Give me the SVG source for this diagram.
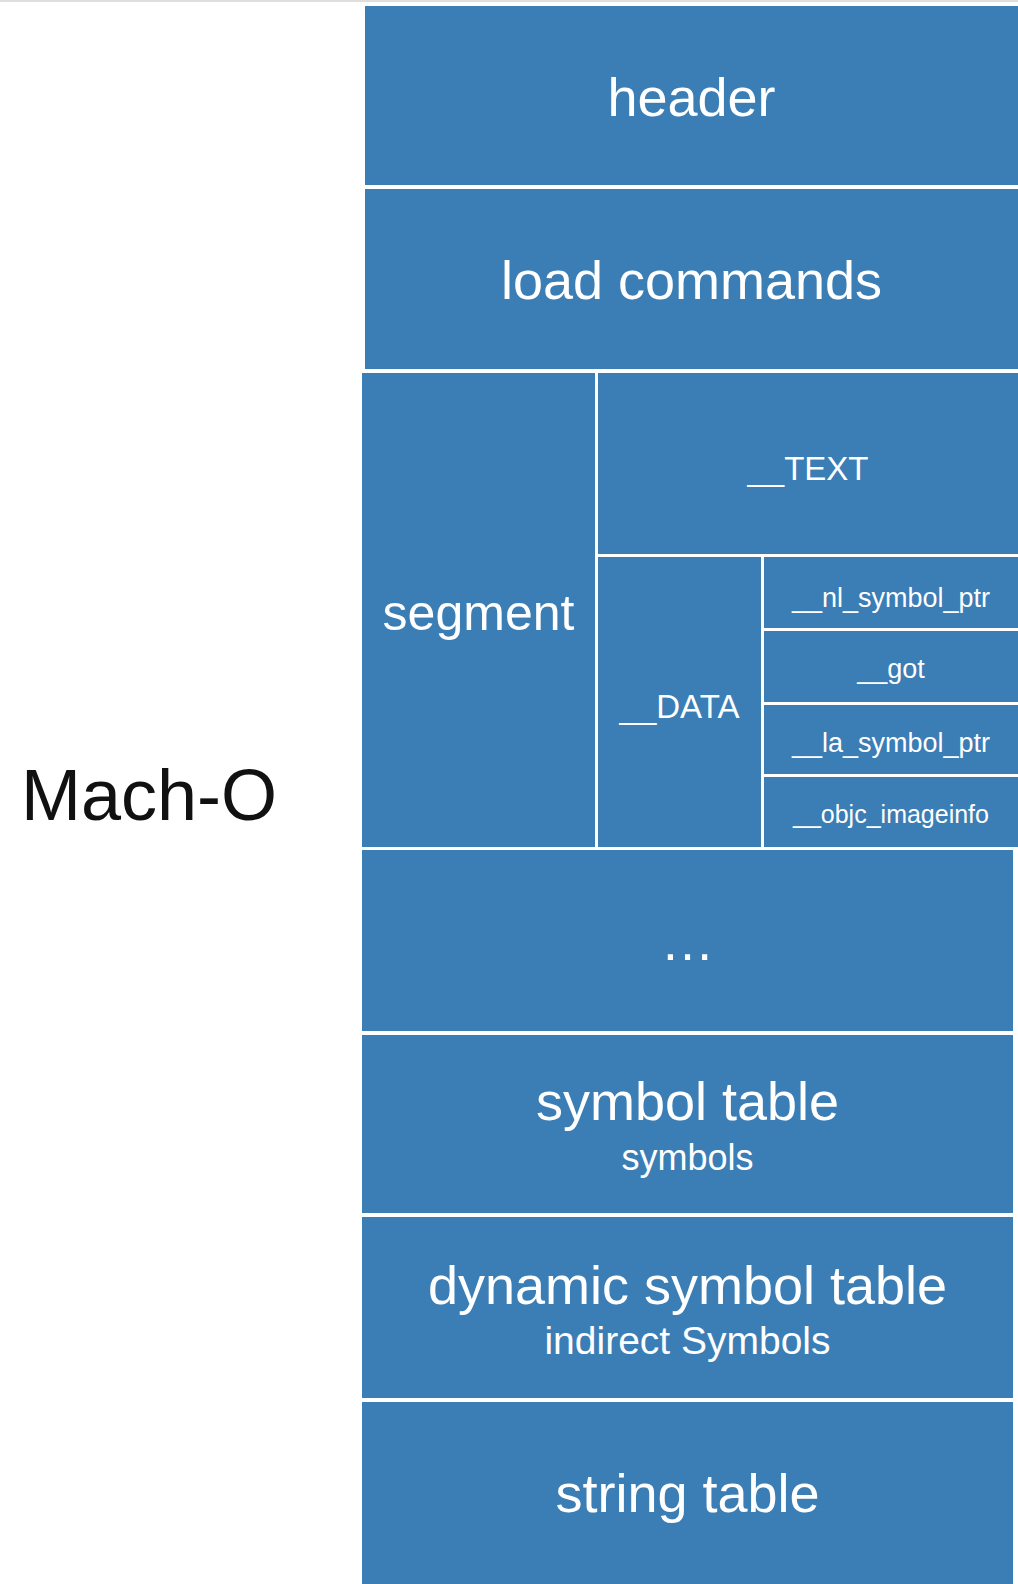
<svg xmlns="http://www.w3.org/2000/svg" width="1018" height="1584" viewBox="0 0 1018 1584">
<style>
.blk{fill:#3b7db5}
.t{fill:#ffffff;font-family:"Liberation Sans",Arial,Helvetica,sans-serif;text-anchor:middle}
.big{font-size:54px}
.mid{font-size:33px}
.sm{font-size:27px}
.sub{font-size:37px}
.side{fill:#111111;font-family:"Liberation Sans",Arial,Helvetica,sans-serif;font-size:72px;text-anchor:middle}
</style>
<rect x="0" y="0" width="1018" height="1584" fill="#ffffff"/>
<rect x="0" y="0" width="1018" height="2" fill="#dedede"/>
<g id="title"><text class="side" x="149" y="820">Mach-O</text></g>
<g id="header"><rect class="blk" x="365" y="6" width="653" height="179"/><text class="t big" x="691.5" y="116">header</text></g>
<g id="load-commands"><rect class="blk" x="365" y="189" width="653" height="180"/><text class="t big" x="691.5" y="299">load commands</text></g>
<g id="segment"><rect class="blk" x="362" y="373" width="233" height="474"/><text class="t" style="font-size:50px" x="478.5" y="630">segment</text></g>
<g id="text-seg"><rect class="blk" x="598" y="373" width="420" height="181"/><text class="t mid" x="808" y="480">__TEXT</text></g>
<g id="data-seg"><rect class="blk" x="598" y="557" width="163" height="290"/><text class="t mid" x="679.5" y="718">__DATA</text></g>
<g id="nl-symbol-ptr"><rect class="blk" x="764" y="557" width="254" height="71"/><text class="t sm" x="891" y="607">__nl_symbol_ptr</text></g>
<g id="got"><rect class="blk" x="764" y="631" width="254" height="71"/><text class="t sm" x="891" y="678">__got</text></g>
<g id="la-symbol-ptr"><rect class="blk" x="764" y="705" width="254" height="69"/><text class="t sm" x="891" y="752">__la_symbol_ptr</text></g>
<g id="objc-imageinfo"><rect class="blk" x="764" y="777" width="254" height="70"/><text class="t" style="font-size:25px" x="891" y="823">__objc_imageinfo</text></g>
<g id="ellipsis"><rect class="blk" x="362" y="850" width="651" height="181"/><text class="t big" x="687.5" y="960">…</text></g>
<g id="symbol-table"><rect class="blk" x="362" y="1035" width="651" height="178"/><text class="t big" x="687.5" y="1120">symbol table</text><text class="t" style="font-size:36px" x="687.5" y="1170">symbols</text></g>
<g id="dynamic-symbol-table"><rect class="blk" x="362" y="1217" width="651" height="181"/><text class="t big" x="687.5" y="1304">dynamic symbol table</text><text class="t" style="font-size:39px" x="687.5" y="1354">indirect Symbols</text></g>
<g id="string-table"><rect class="blk" x="362" y="1402" width="651" height="182"/><text class="t big" x="687.5" y="1512">string table</text></g>
<g id="connectors"></g>
</svg>
